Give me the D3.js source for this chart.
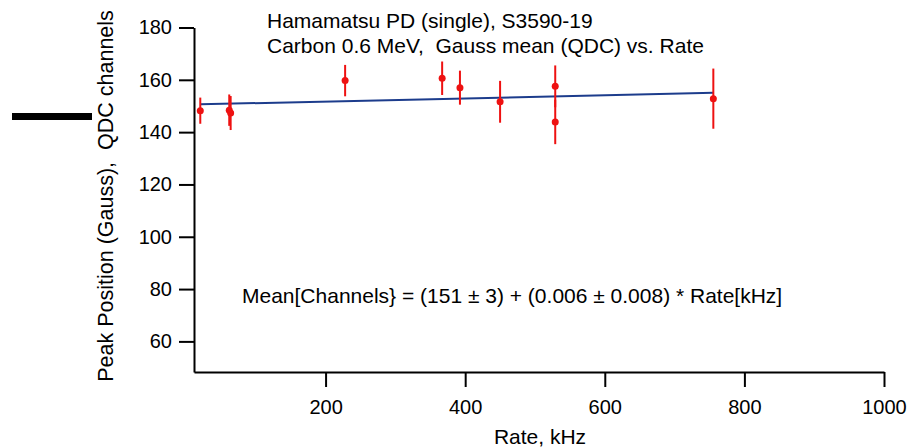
<!DOCTYPE html>
<html>
    <head>
        <title>Gauss mean vs. Rate</title>
        <script type="text/javascript" src="https://d3js.org/d3.v7.min.js"></script>
        <style>
            body { margin: 0; background: #fff; }
            text { font-family: "Liberation Sans", Arial, sans-serif; }
        </style>
    </head>
    <body>
        <div id="my_chart"></div>
    </body>

    <script type="text/javascript">
        // Data
        var rate = [20.5, 62, 64, 228, 367, 392.5, 450, 529, 529, 755.5];
        var peak = [148.2, 148.4, 147.3, 159.7, 160.6, 157, 151.6, 157.5, 143.9, 152.8];
        var peak_err = [5, 6, 6.5, 6, 6.4, 6.5, 8, 8, 8.5, 11.5];

        // Linear fit: Mean = a + b * Rate
        var fit_a = 150.5;
        var fit_b = 0.006;
        var fit_range = [20.5, 755.5];

        var x_ticks = [200, 400, 600, 800, 1000];
        var y_ticks = [60, 80, 100, 120, 140, 160, 180];

        var title_lines = ["Hamamatsu PD (single), S3590-19", "Carbon 0.6 MeV,  Gauss mean (QDC) vs. Rate"];
        var fit_label = "Mean[Channels} = (151 \u00b1 3) + (0.006 \u00b1 0.008) * Rate[kHz]";

        var svg_size = {width: 911, height: 448};

        var dataset = rate.map(function(r, i){
            return {rate: r, peak: peak[i], err: peak_err[i]};
        });

        var svg = d3.select('#my_chart')
                    .append('svg')
                    .attr('width', svg_size.width)
                    .attr('height', svg_size.height);

        // scales
        var x_scale = d3.scaleLinear().domain([11.5, 1000]).range([194, 884]);
        var y_scale = d3.scaleLinear().domain([48.3, 180]).range([372, 27.5]);

        // y axis
        var y_axis = svg.append('g')
                        .attr('transform', 'translate(' + x_scale(11.5) + ',0)')
                        .call(d3.axisLeft(y_scale).tickValues(y_ticks).tickFormat(d3.format('d'))
                                .tickSizeInner(15).tickSizeOuter(0).tickPadding(7));
        // x axis
        var x_axis = svg.append('g')
                        .attr('transform', 'translate(0,' + y_scale(48.3) + ')')
                        .call(d3.axisBottom(x_scale).tickValues(x_ticks).tickFormat(d3.format('d'))
                                .tickSizeInner(15).tickSizeOuter(0).tickPadding(13));

        svg.selectAll('.domain, .tick line')
           .attr('stroke', '#000')
           .attr('stroke-width', 2);
        svg.selectAll('.tick text')
           .attr('fill', '#000')
           .style('font-size', '20px');

        // axis labels
        svg.append('text')
           .attr('x', 540)
           .attr('y', 444)
           .attr('text-anchor', 'middle')
           .style('font-size', '21px')
           .text('Rate, kHz');

        svg.append('text')
           .attr('transform', 'translate(113, 196) rotate(-90)')
           .attr('text-anchor', 'middle')
           .style('font-size', '21.5px')
           .style('white-space', 'pre')
           .text('Peak Position (Gauss),  QDC channels');

        // stray black bar at left of the picture
        svg.append('rect')
           .attr('x', 12).attr('y', 113)
           .attr('width', 80).attr('height', 7)
           .attr('fill', '#000');

        // title lines
        svg.append('g').selectAll('text')
           .data(title_lines)
           .enter()
           .append('text')
           .attr('x', 267)
           .attr('y', function(d, i){ return 28 + i * 25; })
           .style('font-size', '21px')
           .style('white-space', 'pre')
           .text(function(d){ return d; });

        // fit equation
        svg.append('text')
           .attr('x', 242)
           .attr('y', 303)
           .style('font-size', '21px')
           .text(fit_label);

        // fit line
        svg.append('line')
           .attr('x1', x_scale(fit_range[0]))
           .attr('y1', y_scale(fit_a + fit_b * fit_range[0]))
           .attr('x2', x_scale(fit_range[1]))
           .attr('y2', y_scale(fit_a + fit_b * fit_range[1]))
           .attr('stroke', '#1c3c8c')
           .attr('stroke-width', 2);

        // error bars
        svg.append('g').selectAll('line')
           .data(dataset)
           .enter()
           .append('line')
           .attr('x1', d => x_scale(d.rate))
           .attr('x2', d => x_scale(d.rate))
           .attr('y1', d => y_scale(d.peak + d.err))
           .attr('y2', d => y_scale(d.peak - d.err))
           .attr('stroke', '#ee1111')
           .attr('stroke-width', 2);

        // points
        svg.append('g').selectAll('circle')
           .data(dataset)
           .enter()
           .append('circle')
           .attr('r', 3.5)
           .attr('cx', d => x_scale(d.rate))
           .attr('cy', d => y_scale(d.peak))
           .attr('fill', '#ee1111');
    </script>
</html>
